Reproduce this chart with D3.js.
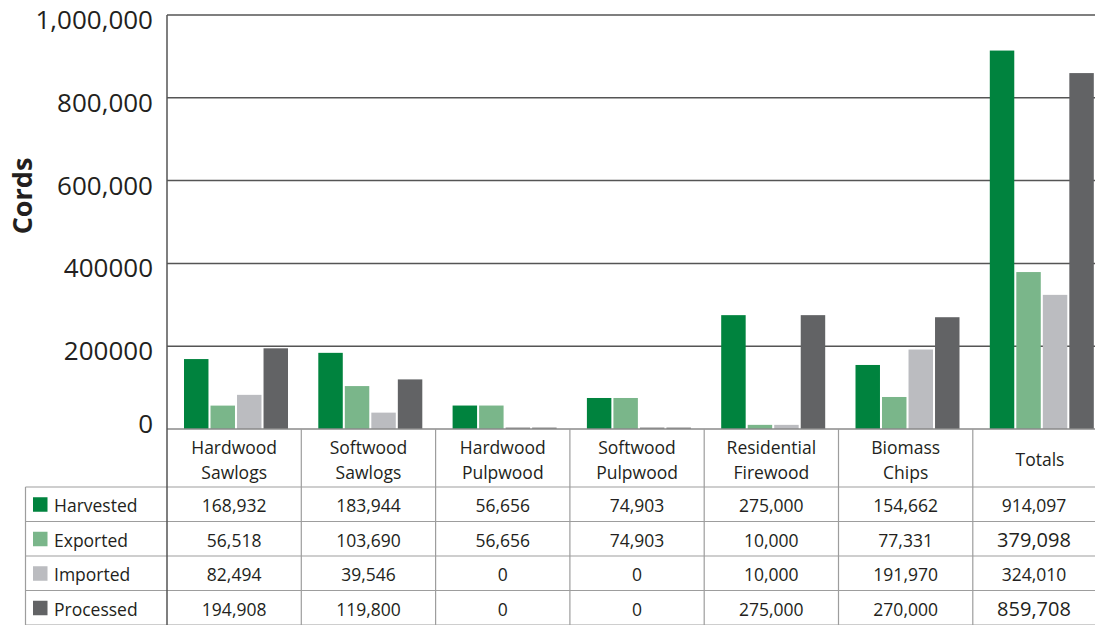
<!DOCTYPE html>
<html>
<head>
<meta charset="utf-8">
<script src="https://cdn.jsdelivr.net/npm/d3@7"></script>
<style>
  body { margin: 0; background: #fff; }
  svg { display: block; font-family: 'Open Sans', sans-serif; }
</style>
</head>
<body>
<svg id="chart" width="1095" height="625"></svg>
<script>
const categories = ['Hardwood Sawlogs', 'Softwood Sawlogs', 'Hardwood Pulpwood', 'Softwood Pulpwood', 'Residential Firewood', 'Biomass Chips', 'Totals']
const headerLines = [['Hardwood', 'Sawlogs'], ['Softwood', 'Sawlogs'], ['Hardwood', 'Pulpwood'], ['Softwood', 'Pulpwood'], ['Residential', 'Firewood'], ['Biomass', 'Chips'], ['Totals']]
const seriesNames = ['Harvested', 'Exported', 'Imported', 'Processed']
const seriesColors = ['#00833e', '#7ab68a', '#bbbcc0', '#626365']

const harvested = [168932, 183944, 56656, 74903, 275000, 154662, 914097]
const exported = [56518, 103690, 56656, 74903, 10000, 77331, 379098]
const imported = [82494, 39546, 0, 0, 10000, 191970, 324010]
const processed = [194908, 119800, 0, 0, 275000, 270000, 859708]
const seriesValues = [harvested, exported, imported, processed]

const tickValues = [0, 200000, 400000, 600000, 800000, 1000000]
const tickLabels = ['0', '200000', '400000', '600,000', '800,000', '1,000,000']

const svg = d3.select('#chart')
const plotLeft = 167
const colW = 134.3
const plotTop = 15
const zeroY = 429
const tableLeft = 25.5
const headerBottom = 487
const rowH = 34.5

const x = d3.scaleBand()
  .domain(categories)
  .range([plotLeft, plotLeft + colW * categories.length])
  .paddingInner(0).paddingOuter(0)

const x1 = d3.scaleBand()
  .domain(seriesNames)
  .range([17, 17 + 104])
  .paddingInner(2 / 26)

const y = d3.scaleLinear().domain([0, 1000000]).range([zeroY, plotTop])

// gridlines
svg.append('g')
  .selectAll('line')
  .data(tickValues.filter(d => d > 0))
  .join('line')
  .attr('x1', plotLeft).attr('x2', 1095)
  .attr('y1', d => y(d)).attr('y2', d => y(d))
  .attr('stroke', '#555').attr('stroke-width', 1.5)

// y tick labels
svg.append('g')
  .selectAll('text')
  .data(tickValues)
  .join('text')
  .attr('x', 153)
  .attr('y', d => y(d) + (d === 0 ? -6 : 4))
  .attr('text-anchor', 'end')
  .attr('dominant-baseline', 'central')
  .attr('font-size', 26)
  .attr('fill', '#231f20')
  .text((d, i) => tickLabels[i])

svg.append('text')
  .attr('transform', 'translate(21,196) rotate(-90)')
  .attr('text-anchor', 'middle')
  .attr('dominant-baseline', 'central')
  .attr('font-size', 27)
  .attr('font-weight', 'bold')
  .attr('fill', '#231f20')
  .text('Cords')

// bars
const groups = svg.append('g')
  .selectAll('g')
  .data(categories)
  .join('g')
  .attr('transform', d => `translate(${x(d)},0)`)

groups.selectAll('rect')
  .data((c, ci) => seriesNames.map((s, si) => ({ s, si, v: seriesValues[si][ci] })))
  .join('rect')
  .attr('x', d => x1(d.s))
  .attr('width', x1.bandwidth())
  .attr('y', d => Math.min(y(d.v), zeroY - 1.5))
  .attr('height', d => Math.max(zeroY - y(d.v), 1.5))
  .attr('fill', d => d.v === 0 ? '#8c8c8c' : seriesColors[d.si])

// table
const tableColor = '#9d9d9d'
const tbl = svg.append('g')
const tableRight = plotLeft + colW * categories.length

tbl.append('line')
  .attr('x1', plotLeft).attr('x2', tableRight)
  .attr('y1', zeroY).attr('y2', zeroY)
  .attr('stroke', '#8a8a8a').attr('stroke-width', 1.5)
d3.range(seriesNames.length + 1).forEach(i => {
  tbl.append('line')
    .attr('x1', tableLeft).attr('x2', tableRight)
    .attr('y1', headerBottom + i * rowH).attr('y2', headerBottom + i * rowH)
    .attr('stroke', tableColor).attr('stroke-width', 1.2)
})
categories.forEach((c, i) => {
  if (i === 0) return
  tbl.append('line')
    .attr('x1', x(c)).attr('x2', x(c))
    .attr('y1', zeroY).attr('y2', 625)
    .attr('stroke', tableColor).attr('stroke-width', 1.2)
})
tbl.append('line')
  .attr('x1', tableLeft).attr('x2', tableLeft)
  .attr('y1', headerBottom).attr('y2', 625)
  .attr('stroke', tableColor).attr('stroke-width', 1.2)

// left axis line
svg.append('line')
  .attr('x1', plotLeft).attr('x2', plotLeft)
  .attr('y1', plotTop).attr('y2', 625)
  .attr('stroke', '#555').attr('stroke-width', 1.5)

// header labels
categories.forEach((c, i) => {
  const lines = headerLines[i]
  const cx = x(c) + colW / 2
  const startY = lines.length === 1 ? 459 : 447
  lines.forEach((t, j) => {
    tbl.append('text')
      .attr('x', cx)
      .attr('y', startY + j * 25)
      .attr('text-anchor', 'middle')
      .attr('dominant-baseline', 'central')
      .attr('font-size', 17.5)
      .attr('fill', '#231f20')
      .text(t)
  })
})

// rows
const fmt = d3.format(',')
seriesNames.forEach((s, si) => {
  const cy = headerBottom + si * rowH + rowH / 2
  tbl.append('rect')
    .attr('x', 33).attr('y', cy - 7)
    .attr('width', 14.5).attr('height', 14.5)
    .attr('fill', seriesColors[si])
  tbl.append('text')
    .attr('x', 54).attr('y', cy + 1)
    .attr('dominant-baseline', 'central')
    .attr('font-size', 17.5)
    .attr('fill', '#231f20')
    .text(s)
  categories.forEach((c, ci) => {
    const last = ci === categories.length - 1
    tbl.append('text')
      .attr('x', last ? 1034 : x(c) + colW / 2)
      .attr('y', cy + 1)
      .attr('text-anchor', 'middle')
      .attr('dominant-baseline', 'central')
      .attr('font-size', last && (si === 1 || si === 3) ? 20 : 17.5)
      .attr('fill', '#231f20')
      .text(fmt(seriesValues[si][ci]))
  })
})
</script>
</body>
</html>
